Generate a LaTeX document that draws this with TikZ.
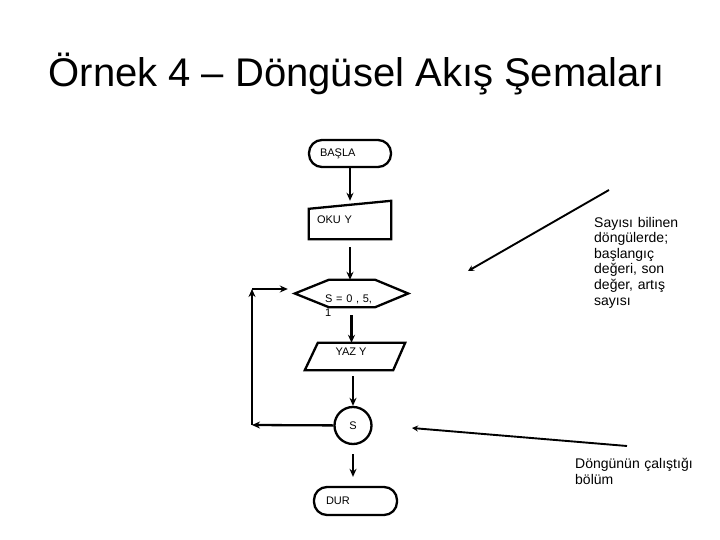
\documentclass[tikz,border=0pt]{standalone}
\usepackage{fontspec}
\setmainfont{Liberation Sans}
\usetikzlibrary{arrows.meta,calc}

\begin{document}
\begin{tikzpicture}[x=1pt,y=-1pt,
    outline/.style={line width=2.3pt},
    term/.style={draw,outline,rounded corners=13pt,align=left,font=\fontsize{11}{13}\selectfont},
    frame/.style={inner sep=0pt},
    txt/.style={inner sep=0pt,anchor=base west,align=left,font=\fontsize{11}{14}\selectfont},
    flow/.style={-{Stealth[length=8pt,width=7pt]},line width=2.3pt},
    pointer/.style={-{Stealth[length=6pt,width=6pt]},line width=1.9pt},
    note/.style={inner sep=0pt,anchor=base west,align=left,font=\fontsize{14}{15.6}\selectfont}]
  \useasboundingbox (0,0) rectangle (720,540);

  \node (t) at (356.5,87) [anchor=base,font=\fontsize{40}{48}\selectfont] {Örnek 4 – Döngüsel Akış Şemaları};

  % flowchart
  \node (1) at (350,153.5) [term,minimum height=27pt,text width=60pt,inner xsep=11pt] {BAŞLA};
  \node (2) at (350,220) [frame,minimum width=82pt,minimum height=38pt,align=left,text width=66pt,font=\fontsize{11}{13}\selectfont] {OKU Y};
  \draw[outline] (2.south west) -- (2.south east) -- (2.north east) -- ($(2.north west)+(0,8)$) -- cycle;

  \node (3) at (351.5,293.5) [frame,minimum width=113pt,minimum height=27pt] {};
  \draw[outline] (3.west) -- ($(3.north west)+(34,0)$) -- ($(3.north east)+(-33,0)$) -- (3.east)
    -- ($(3.south east)+(-33,0)$) -- ($(3.south west)+(34,0)$) -- cycle;
  \node (3t) at (325,302) [txt,text width=60pt] {S = 0 , 5,\\1};

  \node (4) at (355,356.5) [frame,minimum width=100pt,minimum height=27pt] {};
  \draw[outline] ($(4.north west)+(13,0)$) -- (4.north east) -- ($(4.south east)+(-12,0)$) -- (4.south west) -- cycle;
  \node (4t) at (351,351.5) [font=\fontsize{11}{13}\selectfont] {YAZ Y};

  \node (5) at (353,425.5) [draw,outline,circle,minimum size=37pt,inner sep=0pt,font=\fontsize{11}{13}\selectfont] {S};
  \node (6) at (355.5,501) [term,minimum height=28pt,text width=59pt,inner xsep=12pt] {DUR};

  \path[flow]
    (1) edge (1 |- 2.north)
    (2) edge[shorten <=8pt] (2 |- 3.north)
    (3) edge[shorten <=8pt] (3 |- 4.north)
    (5 |- 4.south) edge[shorten <=6pt] (5)
    (5) edge[shorten <=9pt,shorten >=9pt] (5 |- 6.north);

  % loop back
  \coordinate (c1) at (252,425);
  \coordinate (c2) at (252,289);
  \path[flow]
    (5) edge (c1)
    (c1) edge (c2)
    (c2) edge[shorten >=7pt] (c2 -| 3.west);

  % notes
  \coordinate (n1) at (609,190);
  \coordinate (n1e) at (468,271);
  \coordinate (n2) at (627,446);
  \coordinate (n2e) at (412,428);
  \draw[pointer] (n1) -- (n1e);
  \draw[pointer] (n2) -- (n2e);

  \node (n1t) at (594,227) [note,text width=110pt] {Sayısı bilinen\\döngülerde;\\başlangıç\\değeri, son\\değer, artış\\sayısı};
  \node (n2t) at (575,468) [note,text width=130pt,font=\fontsize{14}{16}\selectfont] {Döngünün çalıştığı\\bölüm};
\end{tikzpicture}
\end{document}
